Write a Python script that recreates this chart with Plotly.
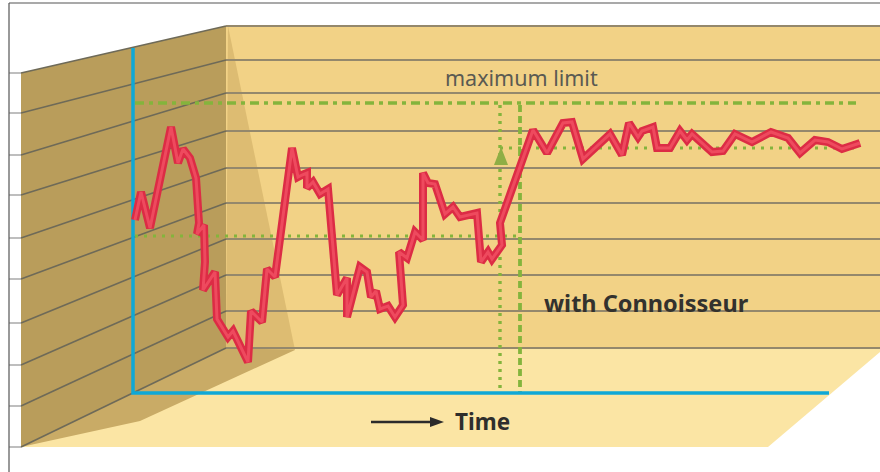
import plotly.graph_objects as go

# Response curve (x = time position, y = level position)
time_pos = [135,141,150,171,178,183,190,196,199,197,204,205,203,215,217,228,233,248,251,262,267,275,292,298,
            302,307,307,313,320,328,337,347,347,360,367,371,376,380,388,395,403,399,407,415,423,423,428,435,445,
            453,460,477,481,488,492,502,500,533,547,563,572,583,610,622,629,638,642,653,657,670,680,687,692,712,
            723,735,752,771,788,800,815,828,842,860]
level_pos = [220,192,228,127,163,149,158,178,223,234,225,262,290,272,319,337,331,362,311,322,269,277,148,177,
             175,173,188,182,194,189,295,278,317,267,272,297,291,309,306,317,305,252,258,232,240,173,183,184,214,
             207,217,213,262,252,259,245,223,130,153,123,122,159,134,155,123,137,131,127,148,148,131,140,134,152,
             151,134,142,132,138,153,140,142,149,143]

back_grid = [26,60,93,131,168,203,239,275,311,348]
side_grid = [73,113,155,195,238,279,323,365,406,447]
max_limit = 103
target_level = 148
start_level = 236
marker_a = 500
marker_b = 520

labels = ["maximum limit", "with Connoisseur", "Time"]

TAN = "#F2D286"; FLOOR = "#FBE5A4"; WALL = "#B99D5B"; SHADE = "#DDBC72"; FLOORSH = "#C9AB66"
GRIDC = "#94886C"; SIDEG = "#6E6A58"; GREEN = "#84B43C"; BLUE = "#0FA8D6"; RED = "#DC2C45"; PINK = "#EE4A5E"

fig = go.Figure()

def poly(xs, ys, color):
    fig.add_trace(go.Scatter(x=xs, y=ys, mode="lines", fill="toself", fillcolor=color,
                             line=dict(width=0, color=color), hoverinfo="skip", showlegend=False))

def line(xs, ys, color, width, dash="solid"):
    fig.add_trace(go.Scatter(x=xs, y=ys, mode="lines", line=dict(color=color, width=width, dash=dash),
                             hoverinfo="skip", showlegend=False))

# Surfaces
poly([226,880,880,226], [26,26,348,348], TAN)
poly([21,226,880,880,768,21], [447,348,348,352,447,447], FLOOR)
poly([228,295,226], [26,350,350], SHADE)
poly([21,140,295,226], [447,421,350,348], FLOORSH)
poly([21,226,226,21], [73,26,348,447], WALL)

# Grid
for y in back_grid:
    line([226,880], [y,y], GRIDC, 2)
for yl, yb in zip(side_grid, back_grid):
    line([21,226], [yl,yb], SIDEG, 1.6)
    line([9,21], [yl,yl], "#A9A9A9", 1.5)

# Frame
line([9,880], [3,3], "#555555", 1.2)
line([9,9], [3,472], "#555555", 1.2)

# Green guides
line([135,856], [max_limit,max_limit], GREEN, 3.4, "9px,5px,4px,5px")
line([135,518], [start_level,start_level], GREEN, 3.2, "3px,6px")
line([500,860], [target_level,target_level], GREEN, 3.2, "3px,6px")
line([marker_a,marker_a], [105,393], GREEN, 3.4, "3px,5px")
line([marker_b,marker_b], [105,393], GREEN, 3.8, "7px,4px")
poly([494,501,508], [165,147,165], "#8FAE45")

# Axes
line([133,133,829], [48,393,393], BLUE, 3.5)

# Curve
line(time_pos, level_pos, RED, 8)
line(time_pos, level_pos, PINK, 3)

# Time arrow
line([371,432], [422,422], "#2B2B2B", 2.5)
poly([430,444,430], [417,422,427], "#2B2B2B")

def text(x, y, s, size, bold, color):
    fig.add_annotation(x=x, y=y, text=f"<b>{s}</b>" if bold else s, showarrow=False,
                       xanchor="left", yanchor="middle",
                       font=dict(family="Noto Sans", size=size, color=color))

text(443, 77, labels[0], 21.5, False, "#5A5A52")
text(542, 303, labels[1], 23.5, True, "#33322E")
text(453, 421, labels[2], 22.5, True, "#2E2E2C")

fig.update_layout(width=880, height=472, margin=dict(l=0, r=0, t=0, b=0), autosize=False,
                  paper_bgcolor="white", plot_bgcolor="white", showlegend=False,
                  xaxis=dict(range=[0,880], visible=False, fixedrange=True),
                  yaxis=dict(range=[472,0], visible=False, fixedrange=True))
fig.write_html("out.html", config={"displayModeBar": False},
               post_script="document.body.style.margin='0';document.body.style.overflow='hidden';")
